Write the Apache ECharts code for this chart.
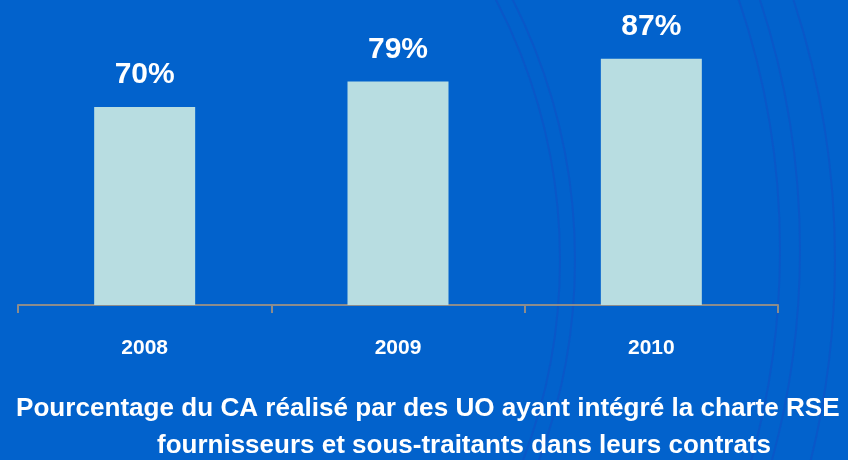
<!DOCTYPE html>
<html>
<head>
<meta charset="utf-8">
<script src="https://cdn.jsdelivr.net/npm/echarts@6/dist/echarts.min.js"></script>
<style>
  html, body { margin: 0; padding: 0; background: #0262cc; }
  #main { width: 848px; height: 460px; }
</style>
</head>
<body>
<div id="main"></div>
<script>
var years = ['2008', '2009', '2010'];
var shares = [70, 79, 87];
var titleLines = [
    'Pourcentage du CA réalisé par des UO ayant intégré la charte RSE',
    'fournisseurs et sous-traitants dans leurs contrats'
];

var chartDom = document.getElementById('main');
var myChart = echarts.init(chartDom);
var font = '"Liberation Sans", Arial, sans-serif';

// faint arcs in the background
var arcs = [];
[[0, 260, 560], [0, 260, 575], [0, 250, 780], [0, 250, 800], [0, 260, 835]].forEach(function (a) {
    arcs.push({
        type: 'circle',
        silent: true,
        z: -1,
        shape: { cx: a[0], cy: a[1], r: a[2] },
        style: { fill: null, stroke: '#1a45c0', lineWidth: 2, opacity: 0.35 }
    });
});

var option = {
    backgroundColor: '#0262cc',
    grid: { left: 18, right: 70, top: 22, bottom: 155 },
    xAxis: {
        type: 'category',
        data: years,
        axisLine: { lineStyle: { color: '#8c8c8c', width: 2 } },
        axisTick: { show: true, length: 8, lineStyle: { color: '#8c8c8c', width: 2 } },
        axisLabel: {
            color: '#ffffff', fontFamily: font, fontWeight: 'bold', fontSize: 21, margin: 33
        }
    },
    yAxis: {
        type: 'value', min: 0, max: 100, show: false, splitLine: { show: false }
    },
    series: [
        {
            type: 'bar',
            data: shares,
            barWidth: 101,
            itemStyle: { color: '#b8dde1' },
            label: {
                show: true,
                position: 'top',
                distance: 17,
                formatter: '{c}%',
                color: '#ffffff',
                fontFamily: font,
                fontWeight: 'bold',
                fontSize: 30
            }
        }
    ],
    graphic: arcs.concat([
        {
            type: 'text', left: 16, top: 396,
            style: { text: titleLines[0], fill: '#ffffff', font: 'bold 26.1px ' + font }
        },
        {
            type: 'text', left: 157, top: 433,
            style: { text: titleLines[1], fill: '#ffffff', font: 'bold 26px ' + font }
        }
    ])
};

option && myChart.setOption(option);
</script>
</body>
</html>
